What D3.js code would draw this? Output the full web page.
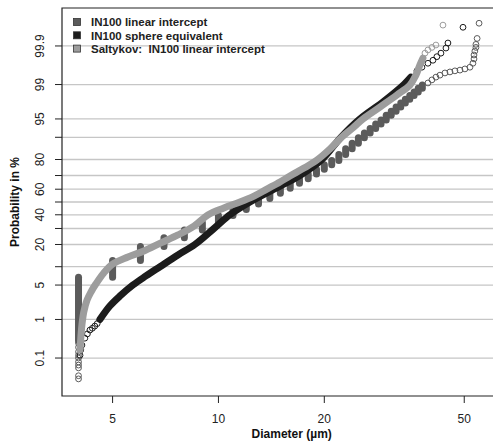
<!DOCTYPE html>
<html>
<head>
<meta charset="utf-8">
<script src="https://cdn.jsdelivr.net/npm/d3@7"></script>
<style>
  body { margin: 0; background: #fff; }
  svg { display: block; font-family: "Liberation Sans", Arial, sans-serif; }
  .legend-label { white-space: pre; }
</style>
</head>
<body>
<div id="chart"></div>
<script>
// values (diameter in µm, probability in %)
const probTicks  = [0.1, 1, 5, 10, 20, 30, 40, 50, 60, 70, 80, 90, 95, 99, 99.9]
const probLabels = [0.1, 1, 5, 20, 40, 60, 80, 95, 99, 99.9]
const diamTicks  = [5, 10, 20, 50]
const seriesNames = ['IN100 linear intercept', 'IN100 sphere equivalent', 'Saltykov:  IN100 linear intercept']

// IN100 linear intercept: integer classes, each class is a run of points from low to high %
const interceptDiam = [4, 5, 6, 7, 8, 9, 10, 11, 12, 13, 14, 15, 16, 17, 18, 19, 20, 21,
  22, 23, 24, 25, 26, 27, 28, 29, 30, 31, 32, 33, 34, 35, 36, 37, 38]
const interceptLow  = [0.3, 6.8, 12.3, 18.9, 24, 29, 34, 39.5, 44.1, 48.4, 52.7, 56.9, 60.8, 64.5, 67.8, 71.0, 74.2, 77.0,
  79.5, 82.6, 85.4, 87.8, 89.8, 91.4, 92.7, 93.9, 94.8, 95.7, 96.4, 97.0, 97.5, 97.9, 98.25, 98.54, 98.78]
const interceptHigh = [6.8, 12.3, 18.9, 24, 29, 34, 39.5, 44.1, 48.4, 52.7, 56.9, 60.8, 64.5, 67.8, 71.0, 74.2, 77.0, 79.5,
  82.6, 85.4, 87.8, 89.8, 91.4, 92.7, 93.9, 94.8, 95.7, 96.4, 97.0, 97.5, 97.9, 98.25, 98.54, 98.78, 98.98]
// single points in both tails
const interceptTailDiam = [4, 4, 4, 4, 4, 4, 4, 4, 4, 4,
  39.43, 40.46, 41.54, 42.65, 44.07, 45.54, 47.05, 48.62, 50.23, 51.9, 52.93, 53.3, 53.3, 53.6, 53.98, 53.98, 54.4, 55.1]
const interceptTailProb = [0.023, 0.029, 0.051, 0.062, 0.077, 0.10, 0.12, 0.15, 0.2, 0.26,
  99.08, 99.22, 99.33, 99.40, 99.47, 99.50, 99.53, 99.55, 99.58, 99.62, 99.70, 99.77, 99.82, 99.86, 99.89, 99.91, 99.94, 99.98]

// IN100 sphere equivalent
const sphereDiam = [4.04, 4.06, 4.09, 4.17, 4.24, 4.31, 4.38, 4.45, 4.52, 4.60, 4.91, 5.25, 5.71, 6.22, 6.82, 7.67,
  8.57, 9.71, 10.78, 12.29, 14.38, 17.05, 19.69, 22.3, 25.26, 29.55, 33.69, 35.27,
  36.68, 37.9, 39.43, 40.74, 41.8, 42.93, 44.36, 44.94, 49.6]
const sphereProb = [0.12, 0.17, 0.23, 0.35, 0.45, 0.56, 0.62, 0.70, 0.80, 1.0, 1.97, 3.14, 5.0, 7.15, 10, 14.7,
  20, 30, 40, 50, 60, 70, 80, 90, 95, 97.7, 99, 99.33,
  99.53, 99.62, 99.70, 99.75, 99.80, 99.84, 99.885, 99.918, 99.973]

// Saltykov: IN100 linear intercept
const saltDiam = [4.04, 4.06, 4.09, 4.14, 4.23, 4.34, 4.48, 4.72, 5.01, 5.53, 6.14, 6.86, 7.67, 8.52, 9.33,
  10.36, 11.51, 12.62, 13.73, 14.96, 15.97, 17.51, 19.06, 20.75, 22.45, 24.12, 25.76, 28.79, 32.18,
  35.04, 36.43, 37.41, 38.15, 38.66, 39.43, 40.46, 41.54, 43.5]
const saltProb = [0.17, 0.35, 0.74, 1.47, 2.61, 3.74, 5.22, 8.0, 11.0, 13.8, 16.6, 20.9, 25.7, 31.7, 39.9,
  45.3, 50, 54.7, 60.1, 65.4, 69.7, 74.9, 79.7, 85.3, 90.1, 92.9, 95.0, 97.0, 98.3,
  98.97, 99.40, 99.67, 99.78, 99.84, 99.87, 99.89, 99.906, 99.977]

// part of each curve that is dense enough to read as a solid band
const sphereSolid = [1, 99.4]
const saltSolid = [0.15, 99.8]

const colors = ['#5b5b5b', '#1c1c1c', '#9d9d9d']

// inverse normal cdf (Acklam) for the probability axis
const probit = p => {
  const a = [-39.69683028665376, 220.9460984245205, -275.9285104469687, 138.3577518672690, -30.66479806614716, 2.506628277459239]
  const b = [-54.47609879822406, 161.5858368580409, -155.6989798598866, 66.80131188771972, -13.28068155288572]
  const c = [-0.007784894002430293, -0.3223964580411365, -2.400758277161838, -2.549732539343734, 4.374664141464968, 2.938163982698783]
  const d = [0.007784695709041462, 0.3224671290700398, 2.445134137142996, 3.754408661907416]
  const tailNum = q => ((((c[0] * q + c[1]) * q + c[2]) * q + c[3]) * q + c[4]) * q + c[5]
  const tailDen = q => (((d[0] * q + d[1]) * q + d[2]) * q + d[3]) * q + 1
  if (p < 0.02425) { const q = Math.sqrt(-2 * Math.log(p)); return tailNum(q) / tailDen(q) }
  if (p > 1 - 0.02425) { const q = Math.sqrt(-2 * Math.log(1 - p)); return -tailNum(q) / tailDen(q) }
  const q = p - 0.5, r = q * q
  return (((((a[0] * r + a[1]) * r + a[2]) * r + a[3]) * r + a[4]) * r + a[5]) * q /
    (((((b[0] * r + b[1]) * r + b[2]) * r + b[3]) * r + b[4]) * r + 1)
}

const width = 493, height = 442
const plot = { left: 62, right: 521.4, top: 8, bottom: 396 }

const svg = d3.select('#chart').append('svg')
  .attr('width', width)
  .attr('height', height)

const x = d3.scaleLog().domain([3.59, 72.7]).range([plot.left, plot.right])
const zScale = d3.scaleLinear().domain([-3.842, 3.842]).range([plot.bottom, plot.top])
const y = p => zScale(probit(p / 100))

// grid lines
svg.append('g')
  .selectAll('line')
  .data(probTicks)
  .enter()
  .append('line')
    .attr('x1', plot.left)
    .attr('x2', width)
    .attr('y1', d => y(d))
    .attr('y2', d => y(d))
    .attr('stroke', '#c6c6c6')
    .attr('stroke-width', 1.3)

const data = svg.append('g')

// linear intercept: vertical runs per integer class
data.append('g')
  .selectAll('line')
  .data(interceptDiam)
  .enter()
  .append('line')
    .attr('x1', d => x(d))
    .attr('x2', d => x(d))
    .attr('y1', (d, i) => y(interceptLow[i]))
    .attr('y2', (d, i) => y(interceptHigh[i]))
    .attr('stroke', colors[0])
    .attr('stroke-width', 7)
    .attr('stroke-linecap', 'round')

const drawCircles = (diam, prob, color, keep) => {
  data.append('g')
    .selectAll('circle')
    .data(diam.map((d, i) => [d, prob[i]]).filter(keep))
    .enter()
    .append('circle')
      .attr('cx', d => x(d[0]))
      .attr('cy', d => y(d[1]))
      .attr('r', 2.9)
      .attr('fill', 'none')
      .attr('stroke', color)
      .attr('stroke-width', 1)
}

const drawBand = (diam, prob, color, solid) => {
  const pts = diam.map((d, i) => [d, prob[i]])
  drawCircles(diam, prob, color, d => d[1] < solid[0] || d[1] > solid[1])
  data.append('path')
    .datum(pts.filter(d => d[1] >= solid[0] && d[1] <= solid[1]))
    .attr('d', d3.line().x(d => x(d[0])).y(d => y(d[1])).curve(d3.curveCatmullRom))
    .attr('fill', 'none')
    .attr('stroke', color)
    .attr('stroke-width', 7)
    .attr('stroke-linecap', 'round')
    .attr('stroke-linejoin', 'round')
}

drawCircles(interceptTailDiam, interceptTailProb, colors[0], () => true)
drawBand(sphereDiam, sphereProb, colors[1], sphereSolid)
drawBand(saltDiam, saltProb, colors[2], saltSolid)

// frame (right side falls outside the picture)
svg.append('path')
  .attr('d', `M${width},${plot.top}H${plot.left}V${plot.bottom}H${width}`)
  .attr('fill', 'none')
  .attr('stroke', '#222')
  .attr('stroke-width', 1.2)

// y axis
const yAxis = svg.append('g')
yAxis.selectAll('line')
  .data(probTicks)
  .enter()
  .append('line')
    .attr('x1', plot.left - 7)
    .attr('x2', plot.left)
    .attr('y1', d => y(d))
    .attr('y2', d => y(d))
    .attr('stroke', '#222')
yAxis.selectAll('text')
  .data(probLabels)
  .enter()
  .append('text')
    .attr('transform', d => `translate(44, ${y(d)}) rotate(-90)`)
    .attr('text-anchor', 'middle')
    .attr('font-size', 12)
    .attr('fill', '#222')
    .text(d => d)

svg.append('text')
  .attr('transform', `translate(19, ${(plot.top + plot.bottom) / 2}) rotate(-90)`)
  .attr('text-anchor', 'middle')
  .attr('font-size', 12)
  .attr('font-weight', 'bold')
  .attr('fill', '#111')
  .text('Probability in %')

// x axis
const xAxis = svg.append('g')
xAxis.selectAll('line')
  .data(diamTicks)
  .enter()
  .append('line')
    .attr('x1', d => x(d))
    .attr('x2', d => x(d))
    .attr('y1', plot.bottom)
    .attr('y2', plot.bottom + 7)
    .attr('stroke', '#222')
xAxis.selectAll('text')
  .data(diamTicks)
  .enter()
  .append('text')
    .attr('x', d => x(d))
    .attr('y', 423)
    .attr('text-anchor', 'middle')
    .attr('font-size', 12)
    .attr('fill', '#222')
    .text(d => d)

svg.append('text')
  .attr('x', (plot.left + plot.right) / 2)
  .attr('y', 438)
  .attr('text-anchor', 'middle')
  .attr('font-size', 12)
  .attr('font-weight', 'bold')
  .attr('fill', '#111')
  .text('Diameter (µm)')

// legend
const legend = svg.append('g')
  .selectAll('g')
  .data(seriesNames)
  .enter()
  .append('g')
    .attr('transform', (d, i) => `translate(73.5, ${22 + i * 13.3})`)
legend.append('rect')
  .attr('x', 0)
  .attr('y', -3.5)
  .attr('width', 7)
  .attr('height', 7)
  .attr('fill', (d, i) => colors[i])
  .attr('stroke', '#333')
  .attr('stroke-width', 0.8)
legend.append('text')
  .attr('class', 'legend-label')
  .attr('x', 17.5)
  .attr('y', 4.2)
  .attr('font-size', 11.5)
  .attr('font-weight', 'bold')
  .attr('fill', '#222')
  .text(d => d)
</script>
</body>
</html>
